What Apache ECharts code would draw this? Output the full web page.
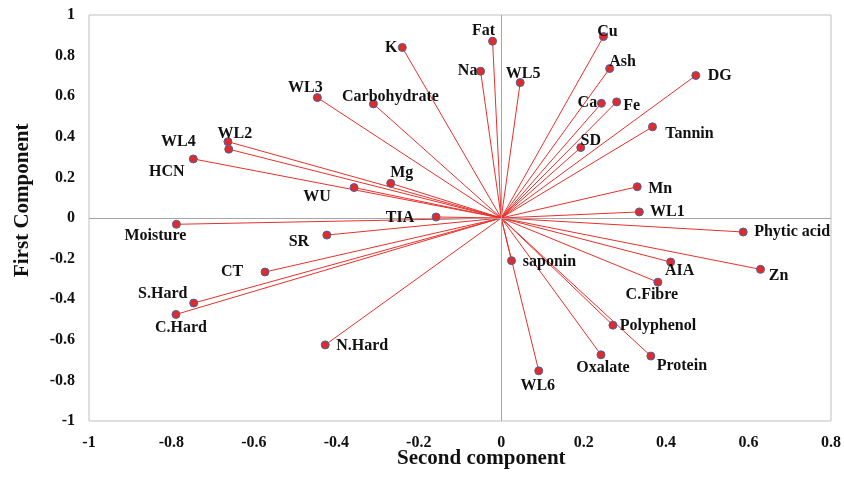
<!DOCTYPE html>
<html>
<head>
<meta charset="utf-8">
<script src="https://cdn.jsdelivr.net/npm/echarts@6/dist/echarts.min.js"></script>
<style>html,body{margin:0;padding:0;background:#fff}#c{width:844px;height:479px}</style>
</head>
<body>
<div id="c"></div>
<script>
// Variable names
var names = ['K','Fat','Na','WL3','Carbohydrate','WL2','WL4','HCN','Mg','WU','TIA','Moisture','SR',
  'Cu','Ash','WL5','DG','Ca','Fe','Tannin','SD','Mn','WL1','Phytic acid',
  'saponin','AIA','Zn','C.Fibre','Polyphenol','Oxalate','Protein','WL6',
  'CT','S.Hard','C.Hard','N.Hard'];
// Second component (x)
var secondComp = [-0.240,-0.021,-0.050,-0.446,-0.310,-0.663,-0.747,-0.661,-0.268,-0.357,-0.158,-0.788,-0.423,
  0.248,0.263,0.046,0.472,0.243,0.280,0.367,0.193,0.330,0.335,0.587,
  0.025,0.411,0.629,0.380,0.271,0.242,0.363,0.091,
  -0.573,-0.746,-0.789,-0.427];
// First component (y)
var firstComp = [0.840,0.871,0.723,0.593,0.562,0.376,0.291,0.339,0.171,0.150,0.005,-0.031,-0.084,
  0.894,0.736,0.667,0.702,0.565,0.572,0.449,0.347,0.154,0.030,-0.069,
  -0.210,-0.217,-0.253,-0.316,-0.528,-0.674,-0.680,-0.753,
  -0.266,-0.419,-0.475,-0.625];
// Label offsets (label placement only)
var labelOffsets = [[-11,0],[-9,-10],[-13,0],[-12,-10],[17,-7],[7,-8],[-15,-17],[-62,23],[11,-10],[-37,9],[-36,1],[-21,12],[-28,7],
  [4,-5],[13,-7],[3,-9],[24,0],[-14,0],[15,4],[37,7],[10,-7],[23,2],[28,0],[49,0],
  [38,1],[9,9],[18,7],[-6,13],[45,1],[2,13],[31,10],[-1,15],
  [-33,0],[-31,-9],[5,13],[37,1]];

var xTicksMin = -1, xTicksMax = 0.8, yTicksMin = -1, yTicksMax = 1, tickStep = 0.2;

var FONT = "'Liberation Serif','Times New Roman',serif";
var chart = echarts.init(document.getElementById('c'));

var lineData = names.map(function(n,i){ return {coords:[[0,0],[secondComp[i],firstComp[i]]]}; });
var pointData = names.map(function(n,i){
  return {name:n, value:[secondComp[i],firstComp[i]],
    label:{offset:labelOffsets[i]}};
});

function fmt(v){ var r = Math.round(v*10)/10; return String(r); }

chart.setOption({
  animation:false,
  grid:{left:89,right:11,top:15,bottom:58,show:true,borderColor:'#bfbfbf',borderWidth:1},
  xAxis:{type:'value',min:xTicksMin,max:xTicksMax,interval:tickStep,
    axisLine:{show:false},axisTick:{show:false},splitLine:{show:false},
    axisLabel:{margin:14,color:'#111',fontFamily:FONT,fontWeight:'bold',fontSize:16,formatter:fmt}},
  yAxis:{type:'value',min:yTicksMin,max:yTicksMax,interval:tickStep,
    axisLine:{show:false},axisTick:{show:false},splitLine:{show:false},
    axisLabel:{margin:14,color:'#111',fontFamily:FONT,fontWeight:'bold',fontSize:16,formatter:fmt}},
  graphic:[
    {type:'text',left:397,top:448,style:{text:'Second component',font:"bold 21px "+FONT,fill:'#111'}},
    {type:'text',x:12,y:277,rotation:Math.PI/2,style:{text:'First Component',font:"bold 21px "+FONT,fill:'#111'}}
  ],
  series:[
    {type:'lines',coordinateSystem:'cartesian2d',silent:true,
      lineStyle:{color:'#e8302a',width:1,opacity:1},data:lineData,
      markLine:{silent:true,symbol:'none',label:{show:false},
        lineStyle:{color:'#a6a6a6',type:'solid',width:1},
        data:[{xAxis:0},{yAxis:0}]}},
    {type:'scatter',symbol:'circle',symbolSize:8,z:5,
      itemStyle:{color:'#e02b2b',borderColor:'#4a62a0',borderWidth:1,opacity:1},
      label:{show:true,position:'inside',align:'center',verticalAlign:'middle',
        formatter:'{b}',color:'#111',fontFamily:FONT,fontWeight:'bold',fontSize:16},
      data:pointData}
  ]
});
</script>
</body>
</html>
